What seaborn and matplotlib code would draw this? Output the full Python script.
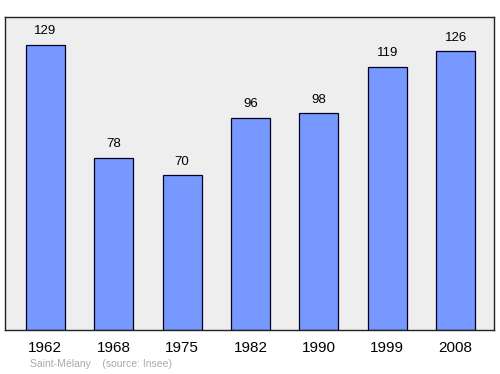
import matplotlib
matplotlib.use("Agg")
import matplotlib.pyplot as plt
import seaborn as sns
import pandas as pd

years = ["1962", "1968", "1975", "1982", "1990", "1999", "2008"]
population = [129, 78, 70, 96, 98, 119, 126]

df = pd.DataFrame({"year": years, "pop": population})

plt.rcParams["font.family"] = ["Liberation Sans", "DejaVu Sans"]

fig = plt.figure(figsize=(5, 3.74), dpi=100)
ax = fig.add_axes([0.01, 0.1176, 0.978, 0.837])
ax.set_facecolor("#eeeeee")

sns.barplot(data=df, x="year", y="pop", ax=ax, color="#7799ff",
            saturation=1, width=0.57, edgecolor="#000022", linewidth=0.9)

for i, v in enumerate(population):
    ax.text(i, v + 3.4, str(v), ha="center", va="bottom", fontsize=9.5, color="#000000")

ax.set_xlim(-0.59, 6.56)
ax.set_ylim(0, 141.6)
ax.set_xlabel("")
ax.set_ylabel("")
ax.set_yticks([])
ax.tick_params(axis="x", length=0, labelsize=11, pad=8)
for s in ax.spines.values():
    s.set_color("#222222")
    s.set_linewidth(1.0)

fig.text(0.06, 0.027, "Saint-Mélany    (source: Insee)", fontsize=7.5, color="#aaaaaa",
         ha="left", va="center")

fig.savefig("out.png", dpi=100)
